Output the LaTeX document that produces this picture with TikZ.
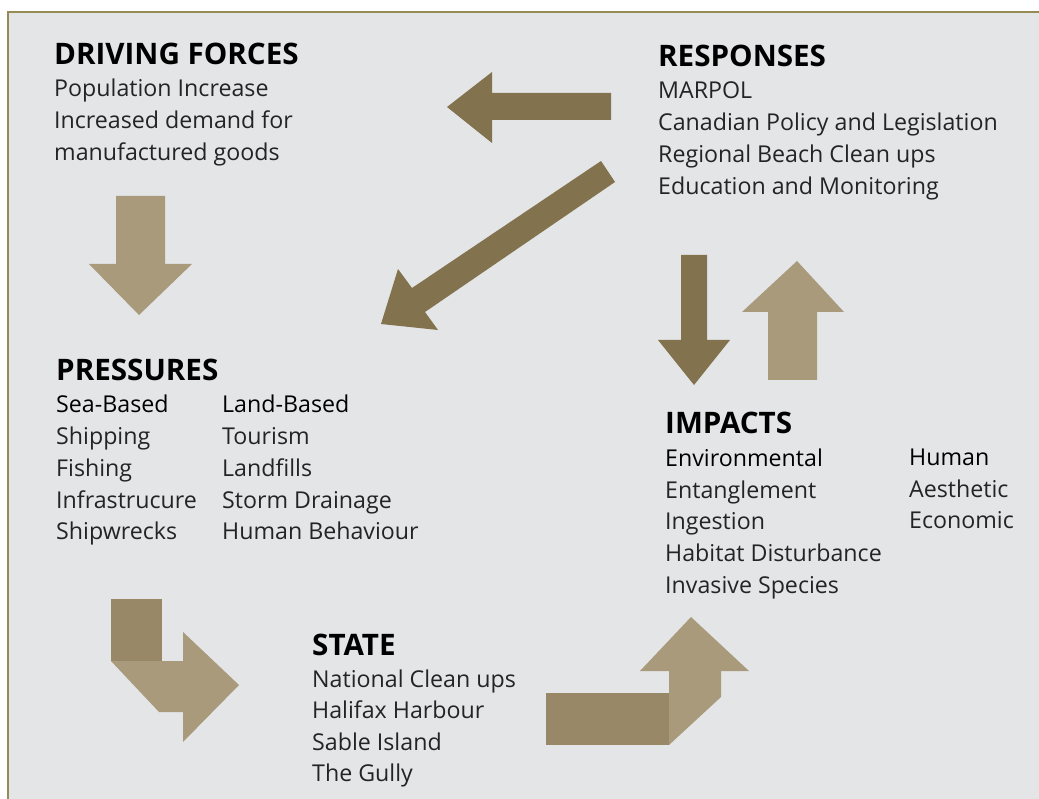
\documentclass[tikz,border=0pt]{standalone}
\usepackage{fontspec}
\setmainfont{Open Sans}
\usepackage{tikz}
\usepackage{xcolor}

\definecolor{panelgrey}{HTML}{E4E5E7}
\definecolor{frameolive}{HTML}{968A55}
\definecolor{arrowdark}{HTML}{83724E}
\definecolor{arrowlight}{HTML}{A89A7B}
\definecolor{arrowmid}{HTML}{988867}

\begin{document}
\begin{tikzpicture}[
  x=1pt,
  y=-1pt,
  line join=miter,
  title/.style={font=\fontsize{29.6}{32}\selectfont\bfseries,anchor=base west,inner sep=0pt},
  head/.style={font=\fontsize{23.2}{32}\selectfont,anchor=base west,inner sep=0pt,text=black},
  item/.style={font=\fontsize{23.2}{32}\selectfont,anchor=base west,inner sep=0pt,text=black!86},
  darkblock/.style={fill=arrowdark},
  lightblock/.style={fill=arrowlight},
  midblock/.style={fill=arrowmid}
]
  \useasboundingbox (0,0) rectangle (1039,799);
  \fill[white] (0,0) rectangle (1039,799);

  % Grey panel with olive frame, cut by the page on the right and below
  \draw[frameolive,fill=panelgrey,line width=2.2pt] (8,12) rectangle (1070,830);

  % Driving forces
  \node[title] (dftitle) at (54,65) {DRIVING FORCES};
  \foreach \txt [count=\i from 0] in {Population Increase,
      Increased demand for, manufactured goods}
    \node[item] (df-\i) at (54,97+32*\i) {\txt};

  % Responses
  \node[title] (restitle) at (658,67) {RESPONSES};
  \foreach \txt [count=\i from 0] in {MARPOL,
      Canadian Policy and Legislation, Regional Beach Clean ups,
      Education and Monitoring}
    \node[item] (res-\i) at (658,99+32*\i) {\txt};

  % Pressures, in two columns
  \node[title] (prtitle) at (56,381) {PRESSURES};
  \node[head] (seahead) at (56,413) {Sea-Based};
  \node[head] (landhead) at (222,413) {Land-Based};
  \foreach \txt [count=\i from 0] in {Shipping, Fishing, Infrastrucure, Shipwrecks}
    \node[item] (sea-\i) at (56,445+31.5*\i) {\txt};
  \foreach \txt [count=\i from 0] in {Tourism, Landfills, Storm Drainage,
      Human Behaviour}
    \node[item] (land-\i) at (222,445+31.5*\i) {\txt};

  % State
  \node[title] (sttitle) at (312,655) {STATE};
  \foreach \txt [count=\i from 0] in {National Clean ups, Halifax Harbour,
      Sable Island, The Gully}
    \node[item] (st-\i) at (312,687+31.5*\i) {\txt};

  % Impacts, environmental and human
  \node[title] (imtitle) at (665,434) {IMPACTS};
  \node[head] (envhead) at (665,466) {Environmental};
  \node[head] (humhead) at (909,465) {Human};
  \foreach \txt [count=\i from 0] in {Entanglement, Ingestion,
      Habitat Disturbance, Invasive Species}
    \node[item] (env-\i) at (665,498+31.7*\i) {\txt};
  \foreach \txt [count=\i from 0] in {Aesthetic, Economic}
    \node[item] (hum-\i) at (909,497+31.5*\i) {\txt};

  % Driving forces -> pressures
  \fill[lightblock] (116,196) -- (165,196) -- (165,264) -- (192,264)
      -- (139,315) -- (89,264) -- (116,264) -- cycle;

  % Responses -> driving forces
  \fill[darkblock] (611,93) -- (611,120) -- (492,120) -- (492,143)
      -- (447,107) -- (492,72) -- (492,93) -- cycle;

  % Responses -> pressures
  \fill[darkblock] (601,161) -- (615,182) -- (425,312) -- (438,330)
      -- (381,324) -- (398,269) -- (412,288) -- cycle;

  % Responses <-> impacts
  \fill[darkblock] (681,255) -- (707,255) -- (707,340) -- (730,340)
      -- (694,385) -- (658,340) -- (681,340) -- cycle;
  \fill[lightblock] (768,380) -- (817,380) -- (817,312) -- (844,312)
      -- (797,261) -- (742,312) -- (768,312) -- cycle;

  % Pressures -> state, folded
  \fill[midblock] (111,599) rectangle (162,661);
  \fill[lightblock] (111,661) -- (183,661) -- (183,632) -- (239,685)
      -- (183,742) -- (183,712) -- (159,712) -- cycle;

  % State -> impacts, folded
  \fill[midblock] (546,693) rectangle (669,745);
  \fill[lightblock] (669,745) -- (721,697) -- (721,671) -- (749,671)
      -- (691,617) -- (640,671) -- (669,671) -- cycle;

\end{tikzpicture}
\end{document}
